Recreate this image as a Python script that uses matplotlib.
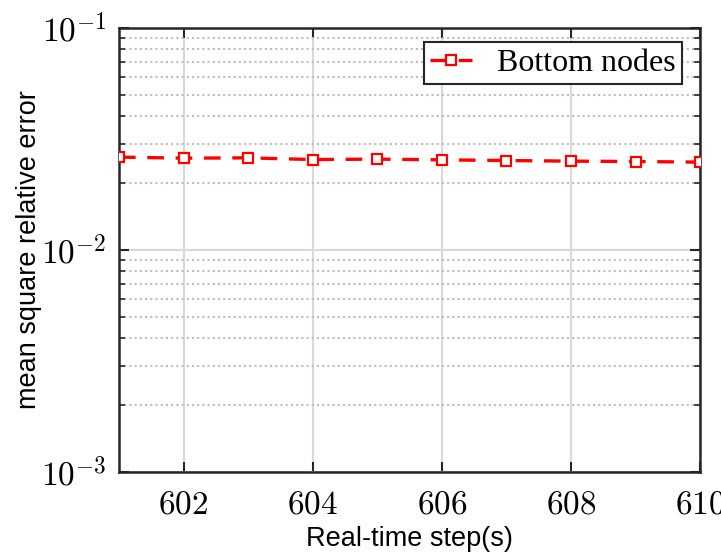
import matplotlib
matplotlib.use("Agg")
import matplotlib.pyplot as plt
from matplotlib.ticker import LogLocator, FixedLocator, NullFormatter

steps = [601, 602, 603, 604, 605, 606, 607, 608, 609, 610]
errors = [0.02616, 0.02588, 0.02596, 0.02551, 0.02562, 0.02543, 0.02525, 0.02509, 0.02499, 0.02483]
xticks = [602, 604, 606, 608, 610]
yticks = [1e-3, 1e-2, 1e-1]
ytick_labels = [r'$10^{-3}$', r'$10^{-2}$', r'$10^{-1}$']
series_label = "Bottom nodes"

plt.rcParams['mathtext.fontset'] = 'cm'

fig = plt.figure(figsize=(7.21, 5.57), dpi=100)
ax = fig.add_axes([0.165, 0.153, 0.806, 0.797])

ax.set_yscale('log')
ax.set_ylim(1e-3, 1e-1)
ax.set_xlim(601, 610)

ax.plot(steps, errors, color='#ff0000', linestyle=(0, (5, 3.5)), linewidth=2.4,
        marker='s', markersize=7, markerfacecolor='white', markeredgecolor='#ff0000',
        markeredgewidth=1.6, label=series_label, zorder=3)

ax.xaxis.set_major_locator(FixedLocator(xticks))
ax.set_xticklabels([r'$%d$' % v for v in xticks])
ax.yaxis.set_major_locator(FixedLocator(yticks))
ax.set_yticklabels(ytick_labels)
ax.yaxis.set_minor_locator(LogLocator(base=10, subs=range(2, 10), numticks=20))
ax.yaxis.set_minor_formatter(NullFormatter())

ax.grid(True, which='major', axis='x', color='#d9d9d9', linewidth=1.5, linestyle='-')
ax.grid(True, which='major', axis='y', color='#d9d9d9', linewidth=1.5, linestyle='-')
ax.grid(True, which='minor', axis='y', color='#bdbdbd', linewidth=1.5, linestyle=(0, (1, 1.5)))
ax.set_axisbelow(True)

for s in ax.spines.values():
    s.set_linewidth(1.8)
    s.set_color('#262626')

ax.tick_params(which='both', direction='in', top=True, right=True, color='#262626')
ax.tick_params(which='major', length=7, width=1.5, labelsize=24, pad=11)
ax.tick_params(which='minor', length=4, width=1.2)
ax.tick_params(axis='y', which='major', pad=9)

ax.set_xlabel('Real-time step(s)', fontsize=19.5, family='Liberation Sans', labelpad=4)
ax.set_ylabel('mean square relative error', fontsize=19.5, family='Liberation Sans', labelpad=-1)

leg = ax.legend(loc='upper right', prop={'family': 'Liberation Serif', 'size': 23},
                frameon=True, fancybox=False, edgecolor='#262626', framealpha=1,
                handlelength=1.3, borderpad=0.2, handletextpad=0.8, borderaxespad=0,
                bbox_to_anchor=(0.969, 0.968))
leg.get_frame().set_linewidth(1.5)

fig.savefig('out.png', dpi=100)
